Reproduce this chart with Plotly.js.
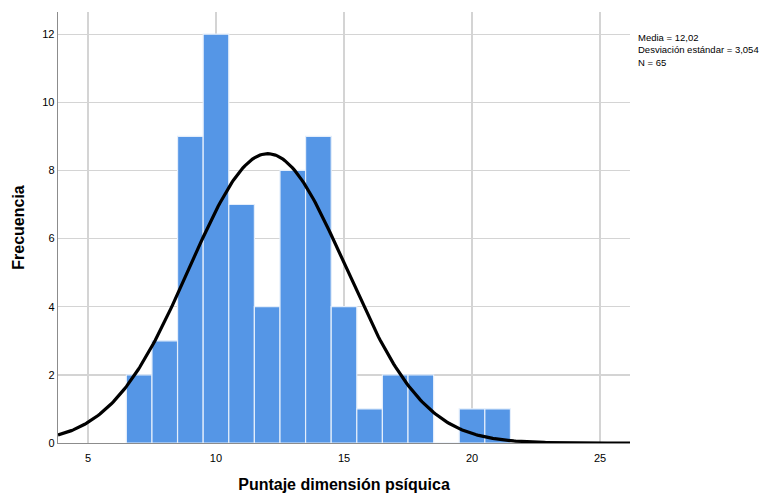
<!DOCTYPE html>
<html>
<head>
<meta charset="utf-8">
<script src="https://cdn.plot.ly/plotly-3.0.1.min.js"></script>
<style>html,body{margin:0;padding:0;background:#fff;}#chart{width:774px;height:493px;}</style>
</head>
<body>
<div id="chart"></div>
<script>
// Bin centres (bin width 1) and frequencies
const binCenters = [7, 8, 9, 10, 11, 12, 13, 14, 15, 16, 17, 18, 19, 20, 21];
const frequencies = [2, 3, 9, 12, 7, 4, 8, 9, 4, 1, 2, 2, 0, 1, 1];
const binWidth = 1;

// Summary statistics shown on the chart
const media = 12.02;
const desviacion = 3.054;
const n = 65;

const xTickVals = [5, 10, 15, 20, 25];
const yTickVals = [0, 2, 4, 6, 8, 10, 12];

// Fitted normal curve (as drawn by SPSS) from the stated mean, SD and N
const curveX = [];
const curveY = [];
const xMin = 3.83, xMax = 26.17;
for (let i = 0; i <= 300; i++) {
  const x = xMin + (xMax - xMin) * i / 300;
  const z = (x - media) / desviacion;
  curveX.push(x);
  curveY.push(n * binWidth / (desviacion * Math.sqrt(2 * Math.PI)) * Math.exp(-0.5 * z * z));
}

const data = [
  {
    type: 'bar',
    x: binCenters,
    y: frequencies,
    width: binWidth,
    marker: { color: '#5596e6', line: { color: '#e4eefb', width: 1.2 } },
    hoverinfo: 'x+y',
    showlegend: false
  },
  {
    type: 'scatter',
    mode: 'lines',
    x: curveX,
    y: curveY,
    line: { color: '#000000', width: 3.2 },
    hoverinfo: 'skip',
    showlegend: false,
    cliponaxis: true
  }
];

const layout = {
  width: 774,
  height: 493,
  margin: { l: 58, r: 144, t: 12, b: 50 },
  paper_bgcolor: '#ffffff',
  plot_bgcolor: '#ffffff',
  font: { family: 'Liberation Sans, Arial, sans-serif', color: '#000' },
  bargap: 0,
  xaxis: {
    range: [xMin, xMax],
    tickvals: xTickVals,
    ticktext: xTickVals.map(String),
    showgrid: true,
    gridcolor: '#d4d4d4',
    gridwidth: 1.3,
    zeroline: false,
    showline: true,
    linecolor: '#8c8c8c',
    linewidth: 1.3,
    ticks: '',
    tickfont: { size: 11, family: 'Liberation Sans, Arial, sans-serif' },
    ticklabelstandoff: 4,
    title: { text: '<b>Puntaje dimensión psíquica</b>', font: { size: 16 }, standoff: 16 }
  },
  yaxis: {
    range: [0, 12.65],
    tickvals: yTickVals,
    ticktext: yTickVals.map(String),
    showgrid: true,
    gridcolor: '#d4d4d4',
    gridwidth: 1.3,
    zeroline: false,
    showline: true,
    linecolor: '#8c8c8c',
    linewidth: 1.3,
    ticks: '',
    tickfont: { size: 11, family: 'Liberation Sans, Arial, sans-serif' },
    title: { text: '<b>Frecuencia</b>', font: { size: 16 }, standoff: 13 }
  },
  annotations: [
    {
      xref: 'paper', yref: 'paper',
      x: 1.01, y: 0.958,
      xanchor: 'left', yanchor: 'top',
      align: 'left',
      showarrow: false,
      text: 'Media = ' + media.toFixed(2).replace('.', ',') +
            '<br>Desviación estándar = ' + desviacion.toFixed(3).replace('.', ',') +
            '<br>N = ' + n,
      font: { size: 9.5, family: 'Liberation Sans, Arial, sans-serif', color: '#000' }
    }
  ]
};

Plotly.newPlot('chart', data, layout, { displayModeBar: false, staticPlot: true });
</script>
</body>
</html>
